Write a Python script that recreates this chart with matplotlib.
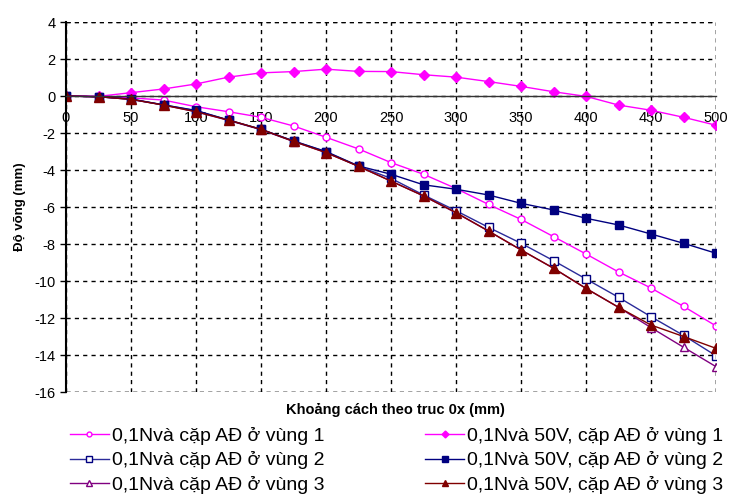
import matplotlib
matplotlib.use("Agg")
import matplotlib.pyplot as plt

# khoang cach theo truc 0x (mm)
x = [0, 25, 50, 75, 100, 125, 150, 175, 200, 225, 250,
     275, 300, 325, 350, 375, 400, 425, 450, 475, 500]

# do vong (mm) - doc tu hinh
n_vung1 = [0, -0.04, -0.1, -0.22, -0.58, -0.85, -1.15, -1.62, -2.23, -2.86, -3.6,
           -4.23, -5.0, -5.86, -6.67, -7.6, -8.54, -9.51, -10.38, -11.37, -12.43]
v_vung1 = [0, -0.02, 0.18, 0.38, 0.65, 1.02, 1.25, 1.32, 1.45, 1.33, 1.32,
           1.15, 1.02, 0.78, 0.52, 0.23, -0.02, -0.49, -0.77, -1.15, -1.58]
n_vung2 = [0, -0.04, -0.18, -0.48, -0.8, -1.3, -1.8, -2.43, -3.02, -3.8, -4.45,
           -5.35, -6.2, -7.1, -7.96, -8.9, -9.89, -10.88, -11.93, -12.94, -14.04]
v_vung2 = [0, -0.04, -0.16, -0.48, -0.78, -1.3, -1.8, -2.43, -3.0, -3.78, -4.23,
           -4.8, -5.04, -5.35, -5.8, -6.16, -6.61, -6.97, -7.46, -7.96, -8.5]
n_vung3 = [0, -0.04, -0.18, -0.49, -0.85, -1.32, -1.82, -2.46, -3.06, -3.8, -4.6,
           -5.4, -6.32, -7.3, -8.32, -9.31, -10.4, -11.42, -12.52, -13.58, -14.63]
v_vung3 = [0, -0.04, -0.18, -0.49, -0.85, -1.3, -1.8, -2.45, -3.06, -3.8, -4.6,
           -5.4, -6.3, -7.3, -8.32, -9.31, -10.4, -11.42, -12.38, -13.0, -13.64]

labels = ["0,1Nvà cặp AĐ ở vùng 1", "0,1Nvà cặp AĐ ở vùng 2", "0,1Nvà cặp AĐ ở vùng 3",
          "0,1Nvà 50V, cặp AĐ ở vùng 1", "0,1Nvà 50V, cặp AĐ ở vùng 2",
          "0,1Nvà 50V, cặp AĐ ở vùng 3"]

plt.rcParams['font.family'] = ['Liberation Sans', 'DejaVu Sans']
plt.rcParams['axes.unicode_minus'] = False

fig = plt.figure(figsize=(7.32, 4.94), dpi=100)
ax = fig.add_axes([66/732, 1-392/494, 650/732, 370/494])

ax.plot(x, n_vung1, '-o', color='#FF00FF', mfc='white', mec='#FF00FF', ms=5, lw=1, label=labels[0])
ax.plot(x, n_vung2, '-s', color='#2B2B9A', mfc='white', mec='#000080', ms=5.5, lw=1, label=labels[1])
ax.plot(x, n_vung3, '-^', color='#800080', mfc='white', mec='#800080', ms=6, lw=1, label=labels[2])
ax.plot(x, v_vung1, '-D', color='#FF00FF', ms=5, lw=1, label=labels[3])
ax.plot(x, v_vung2, '-s', color='#000080', ms=6, lw=1, label=labels[4])
ax.plot(x, v_vung3, '-^', color='#800000', ms=6.5, lw=1, label=labels[5])

ax.set_xlim(0, 500)
ax.set_ylim(-16, 4)
ax.set_xticks(range(0, 501, 50))
ax.set_yticks(range(-16, 5, 2))
ax.grid(True, color='black', linestyle=(0, (3, 3)), lw=1)
ax.set_axisbelow(True)

for s in ['top', 'right']:
    ax.spines[s].set_visible(False)
ax.spines['bottom'].set_position(('data', 0))
ax.spines['bottom'].set_color('#333333')
ax.spines['bottom'].set_linewidth(1)
ax.spines['left'].set_linewidth(1.5)
# khung ngoai net dut
for yy in [-16, 4]:
    ax.axhline(yy, color='black', linestyle=(0, (3, 3)), lw=1)
ax.axvline(500, color='black', linestyle=(0, (3, 3)), lw=1)

ax.tick_params(axis='x', length=0, pad=11, labelsize=10.5, colors='black')
ax.tick_params(axis='y', length=4, width=1, direction='out', labelsize=10.5)

ax.set_ylabel('Độ võng (mm)', fontsize=9.5, fontweight='bold', labelpad=6)
fig.text(395/732, 1-410/494, 'Khoảng cách theo truc 0x (mm)', fontsize=10.5,
         fontweight='bold', ha='center', va='center')

fig.legend(loc='upper left', bbox_to_anchor=(70/732, 1-427/494), ncol=2, frameon=False,
           fontsize=14, handlelength=2.0, handletextpad=0.15, columnspacing=5.2,
           labelspacing=0.33, markerscale=0.7, borderaxespad=0, borderpad=0)

fig.savefig('out.png', dpi=100)
